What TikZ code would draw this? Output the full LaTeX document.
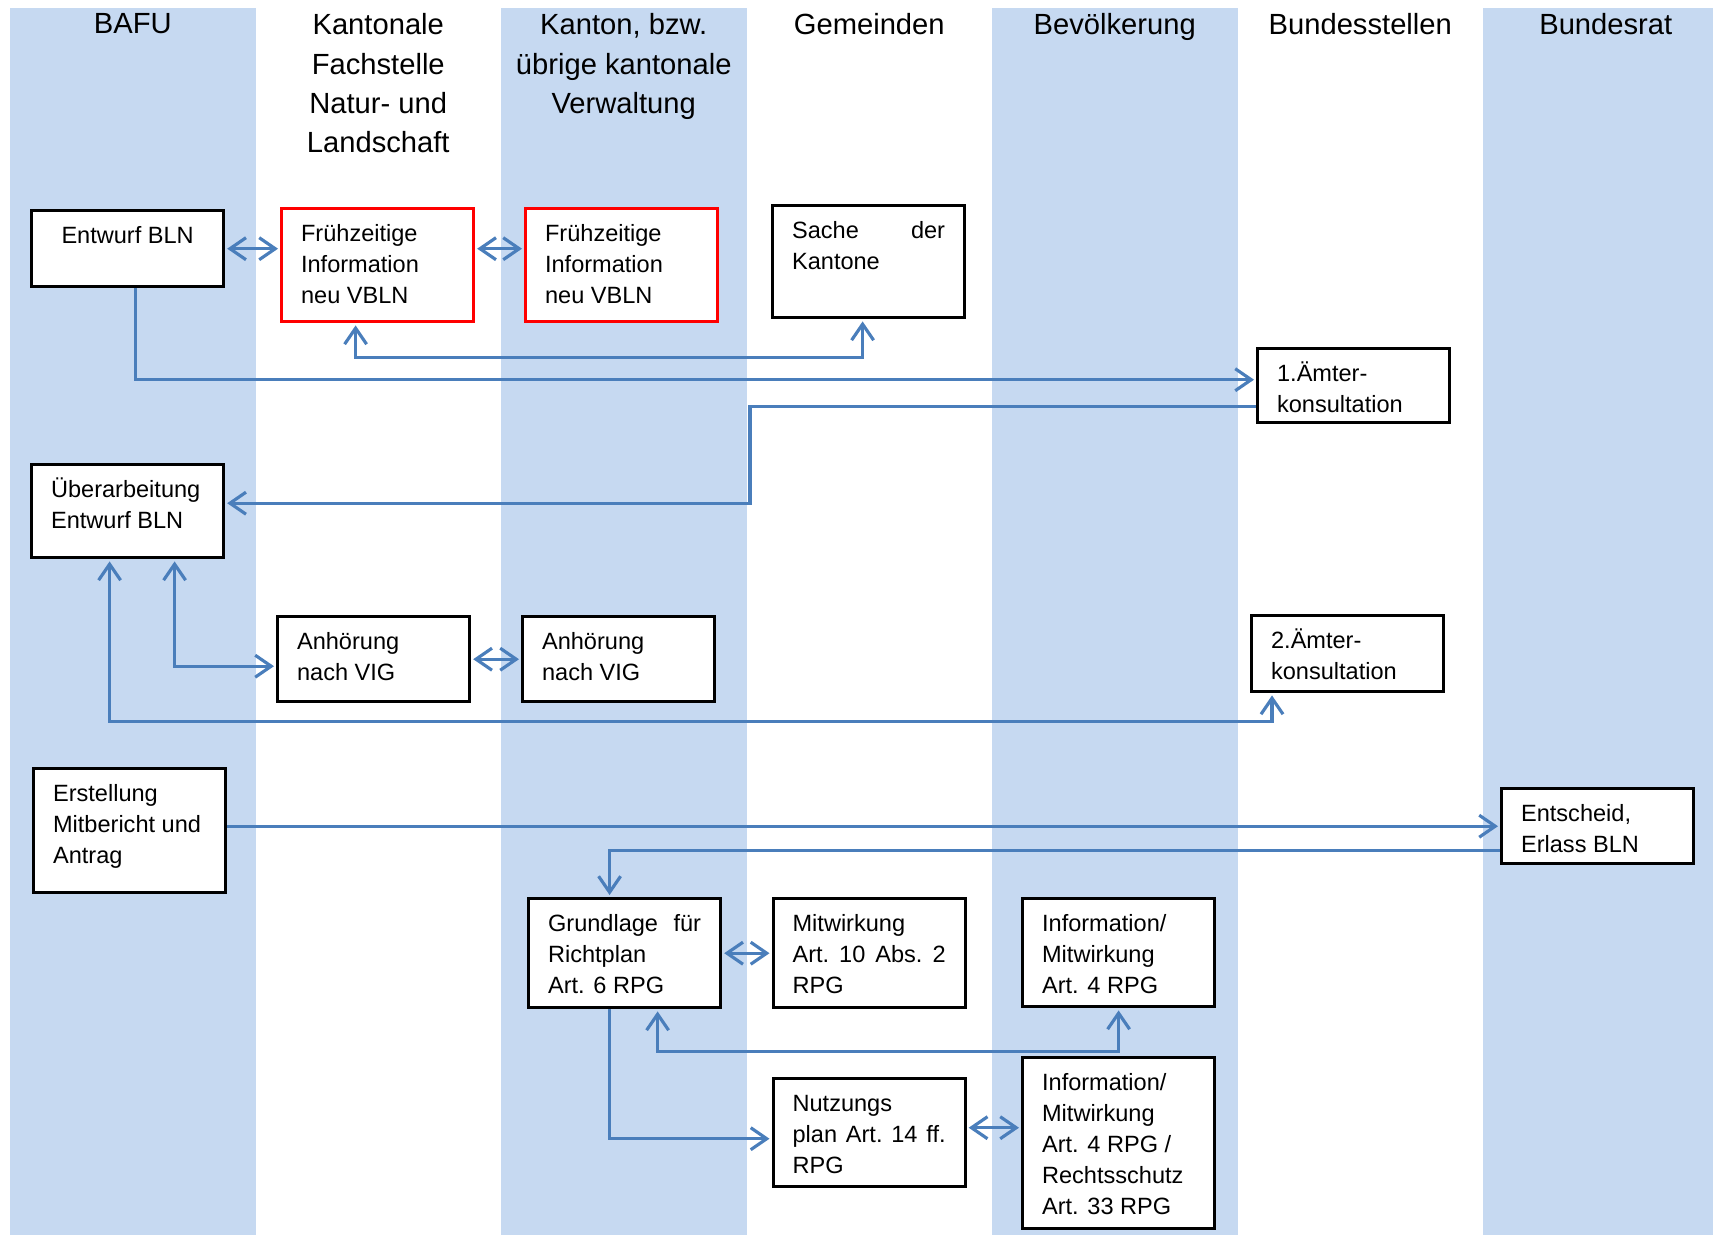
\documentclass[tikz,border=0pt]{standalone}
\usepackage{fontspec}
\setmainfont{Liberation Sans}
\usetikzlibrary{arrows.meta}

\definecolor{bandblue}{HTML}{C6D9F1}
\definecolor{linkblue}{HTML}{4A7EBB}

% top aligned text of a box: height, text
\newcommand{\steptext}[2]{\parbox[t][#1][t]{1.53cm}{\raggedright\strut #2}}

\tikzset{
	stepbox/.style={draw=black,line width=0.85pt,fill=white,anchor=north west,inner xsep=0.196cm,inner ysep=0.11cm,font=\fontsize{6.7pt}{8.82pt}\selectfont},
	redbox/.style={stepbox,draw=red},
	link/.style={draw=linkblue,line width=0.9pt,-{Straight Barb[length=0.16cm,width=0.22cm]},shorten >=0.02cm},
	twolink/.style={link,{Straight Barb[length=0.16cm,width=0.22cm]}-{Straight Barb[length=0.16cm,width=0.22cm]},shorten <=0.02cm},
	head/.style={anchor=north,inner sep=0pt,align=center,font=\fontsize{8.3pt}{11.2pt}\selectfont}
}

\begin{document}
\begin{tikzpicture}
	\useasboundingbox (0,0) rectangle (17.13,-12.35);

	% blue columns
	\foreach \xa/\xb in {0.10/2.555, 5.01/7.465, 9.92/12.375, 14.83/17.13}
		\fill[bandblue] (\xa,-0.083) rectangle (\xb,-12.35);

	% column titles
	\foreach \name [count=\i from 0] in {BAFU, {Kantonale\\Fachstelle\\Natur- und\\Landschaft}, {Kanton, bzw.\\übrige kantonale\\Verwaltung}, Gemeinden, Bevölkerung, Bundesstellen, Bundesrat}
		\node[head] (head\i) at (1.3275+2.455*\i,-0.13) {\name};

	\node[stepbox] (entwurf) at (0.30,-2.09) {\steptext{0.544cm}{\centering Entwurf BLN}}; % draft
	\node[redbox] (frueh1) at (2.80,-2.07) {\steptext{0.914cm}{Frühzeitige\\Information\\neu VBLN}};
	\node[redbox] (frueh2) at (5.24,-2.07) {\steptext{0.914cm}{Frühzeitige\\Information\\neu VBLN}};
	\node[stepbox] (sache) at (7.71,-2.04) {\steptext{0.904cm}{Sache\hfill der\\Kantone}};
	\node[stepbox] (amt1) at (12.56,-3.47) {\steptext{0.524cm}{1.Ämter-\\konsultation}};

	\node[stepbox] (ueber) at (0.30,-4.63) {\steptext{0.714cm}{Überarbeitung\\Entwurf BLN}}; % revision
	\node[stepbox] (anh1) at (2.76,-6.15) {\steptext{0.634cm}{Anhörung\\nach VIG}};
	\node[stepbox] (anh2) at (5.21,-6.15) {\steptext{0.634cm}{Anhörung\\nach VIG}};
	\node[stepbox] (amt2) at (12.50,-6.14) {\steptext{0.544cm}{2.Ämter-\\konsultation}};

	\node[stepbox] (erst) at (0.32,-7.67) {\steptext{1.024cm}{Erstellung\\Mitbericht und\\Antrag}};
	\node[stepbox] (entsch) at (15.00,-7.87) {\steptext{0.534cm}{Entscheid,\\Erlass BLN}}; % decision

	\node[stepbox] (grund) at (5.27,-8.97) {\steptext{0.874cm}{Grundlage\hfill für\\Richtplan\\Art. 6 RPG}};
	\node[stepbox] (mitw) at (7.715,-8.97) {\steptext{0.874cm}{Mitwirkung\\Art.\hfill 10\hfill Abs.\hfill 2\\RPG}};
	\node[stepbox] (info1) at (10.21,-8.97) {\steptext{0.864cm}{Information/\\Mitwirkung\\Art. 4 RPG}};
	\node[stepbox] (nutz) at (7.715,-10.77) {\steptext{0.864cm}{Nutzungs\\plan\hfill Art.\hfill 14\hfill ff.\\RPG}};
	\node[stepbox] (info2) at (10.21,-10.56) {\steptext{1.494cm}{Information/\\Mitwirkung\\Art. 4 RPG /\\Rechtsschutz\\Art. 33 RPG}};

	% connectors
	\draw[twolink] (entwurf.east) -- (entwurf.east -| frueh1.west);
	\draw[twolink] (frueh1.east |- entwurf.east) -- (frueh2.west |- entwurf.east);
	\draw[twolink] ([xshift=-0.22cm]frueh1.south) -- ++(0,-0.34) -| ([xshift=-0.06cm]sache.south);
	\draw[link] ([xshift=0.08cm]entwurf.south) |- ([yshift=0.06cm]amt1.west);
	\draw[link] ([yshift=-0.21cm]amt1.west) -| (7.50,-4.5) |- ([yshift=0.08cm]ueber.east);

	\draw[twolink] ([xshift=-0.18cm]ueber.south) -- ++(0,-1.62) -| ([xshift=0.22cm]amt2.south west);
	\draw[twolink] ([xshift=0.47cm]ueber.south) |- ([yshift=-0.07cm]anh1.west);
	\draw[twolink] (anh1) -- (anh2);

	\draw[link] (erst.east |- entsch) -- (entsch.west);
	\draw[link] ([yshift=-0.24cm]entsch.west) -| ([xshift=-0.15cm]grund.north);
	\draw[twolink] (grund) -- (mitw);
	\draw[twolink] ([xshift=0.33cm]grund.south) -- ++(0,-0.42) -| (info1.south);
	\draw[link] ([xshift=-0.15cm]grund.south) |- ([yshift=-0.06cm]nutz.west);
	\draw[twolink] ([yshift=0.05cm]nutz.east) -- ([yshift=0.05cm]nutz.east -| info2.west);
\end{tikzpicture}
\end{document}
